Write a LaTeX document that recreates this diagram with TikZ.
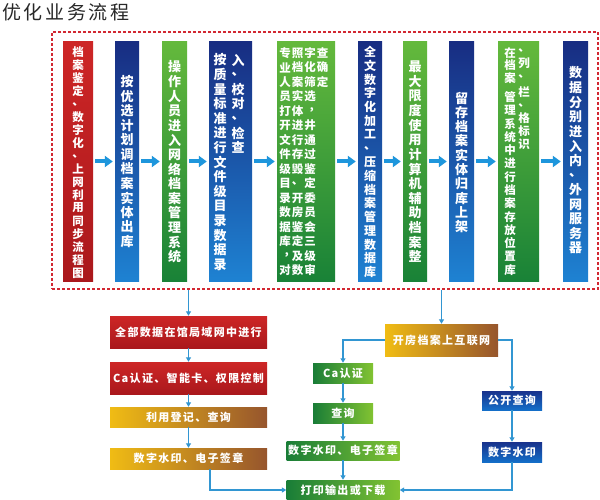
\documentclass[tikz,border=0pt]{standalone}
\usepackage{fontspec}
\setmainfont{Noto Sans CJK SC}
\newfontfamily\cjk{Noto Sans CJK SC}
\newfontfamily\cjkls[LetterSpace=12]{Noto Sans CJK SC}
\newfontfamily\cjktitle[LetterSpace=14]{Noto Sans CJK SC}
\usetikzlibrary{arrows.meta}
\definecolor{arrowblue}{RGB}{30,150,220}
\definecolor{connblue}{RGB}{50,150,210}
\definecolor{framered}{RGB}{210,40,50}
\definecolor{titlegray}{RGB}{40,40,40}
\definecolor{redA}{RGB}{205,38,38}
\definecolor{redB}{RGB}{170,24,28}
\definecolor{bluA}{RGB}{24,45,130}
\definecolor{bluB}{RGB}{30,130,210}
\definecolor{grnA}{RGB}{100,185,60}
\definecolor{grnB}{RGB}{25,130,55}
\definecolor{lgrnA}{RGB}{25,125,55}
\definecolor{lgrnB}{RGB}{130,195,50}
\definecolor{yelA}{RGB}{240,188,20}
\definecolor{yelB}{RGB}{150,85,45}
\definecolor{lbluA}{RGB}{25,50,140}
\definecolor{lbluB}{RGB}{20,110,200}
\newcommand{\vcm}{\rlap{\kern4pt\raisebox{2pt}{，}}\phantom{，}}
\newcommand{\myvtext}[6]{\foreach \ch [count=\i] in {#6} {\node[vchar,font=\cjk\bfseries\fontsize{#5}{#5}\selectfont] (#1\i) at (#2,{#3+(\i-1)*#4}) {\ch};}}
\tikzset{
  colbox/.style={rectangle, inner sep=0pt, minimum height=239pt},
  redcol/.style={colbox, top color=redA, bottom color=redB},
  bluecol/.style={colbox, top color=bluA, bottom color=bluB},
  greencol/.style={colbox, top color=grnA, bottom color=grnB},
  vchar/.style={text=white, inner sep=0pt},
  bigarrow/.style={draw=arrowblue, line width=4pt, -{Triangle[width=11pt,length=8pt]}, shorten <=2pt, shorten >=2pt},
  lowbox/.style={rectangle, inner sep=0pt, text=white, font=\cjkls\bfseries\fontsize{11}{11}\selectfont},
  redbox/.style={lowbox, top color=redA, bottom color=redB},
  yelbox/.style={lowbox, left color=yelA, right color=yelB},
  grnbox/.style={lowbox, left color=lgrnA, right color=lgrnB},
  blubox/.style={lowbox, top color=lbluA, bottom color=lbluB},
  conn/.style={draw=connblue, line width=1.2pt, -{Triangle[width=5pt,length=4.5pt]}},
}
\begin{document}
\begin{tikzpicture}[x=1pt,y=-1pt]
\useasboundingbox (0,0) rectangle (600,500);
\fill[white] (0,0) rectangle (600,500);
% title
\node[anchor=west, text=titlegray, inner sep=0pt, font=\cjktitle\fontsize{19}{19}\selectfont] (title) at (2,12) {优化业务流程};
% frame
\node[draw=framered, line width=1.3pt, dash pattern=on 3pt off 2pt, inner sep=0pt, minimum width=546pt, minimum height=257pt] (frame) at (325,160.5) {};
% columns
\node[redcol, minimum width=30pt] (c1) at (78,161.5) {};
\node[bluecol, minimum width=24pt] (c2) at (127,161.5) {};
\node[greencol, minimum width=25pt] (c3) at (174.5,161.5) {};
\node[bluecol, minimum width=43pt] (c4) at (230.5,161.5) {};
\node[greencol, minimum width=58pt] (c5) at (306,161.5) {};
\node[bluecol, minimum width=24pt] (c6) at (370,161.5) {};
\node[greencol, minimum width=24pt] (c7) at (415,161.5) {};
\node[bluecol, minimum width=25pt] (c8) at (461.5,161.5) {};
\node[greencol, minimum width=41pt] (c9) at (518.5,161.5) {};
\node[bluecol, minimum width=25pt] (c10) at (575.5,161.5) {};
% column texts
\myvtext{c1t}{78}{52}{13}{11.5}{档,案,鉴,定,、,数,字,化,、,上,网,利,用,同,步,流,程,图}
\myvtext{c2t}{127}{82}{14.5}{13}{按,优,选,计,划,调,档,案,实,体,出,库}
\myvtext{c3t}{174.5}{67}{14.6}{13}{操,作,人,员,进,入,网,络,档,案,管,理,系,统}
\myvtext{c4l}{220}{60}{14.6}{13}{按,质,量,标,准,进,行,文,件,级,目,录,数,据,录}
\myvtext{c4r}{238}{60}{14.6}{13}{入,、,校,对,、,检,查}
\myvtext{c5a}{285}{53}{14.5}{11.5}{专,业,人,员,打,开,文,件,级,目,录,数,据,库,\vcm,对}
\myvtext{c5b}{297.5}{53}{14.5}{11.5}{照,档,案,实,体,进,行,存,毁,、,开,房,鉴,定,及,数}
\myvtext{c5c}{310}{53}{14.5}{11.5}{字,化,筛,选,\vcm,井,通,过,鉴,定,委,员,会,三,级,审}
\myvtext{c5d}{322.5}{53}{14.5}{11.5}{查,确,定}
\myvtext{c6t}{370}{52}{13.75}{12}{全,文,数,字,化,加,工,、,压,缩,档,案,管,理,数,据,库}
\myvtext{c7t}{415}{67}{14.6}{13}{最,大,限,度,使,用,计,算,机,辅,助,档,案,整}
\myvtext{c8t}{461.5}{98}{14.3}{13}{留,存,档,案,实,体,归,库,上,架}
\myvtext{c9a}{510}{53}{12.5}{11.5}{在,档,案}
\myvtext{c9b}{510}{97}{13.3}{11.5}{管,理,系,统,中,进,行,档,案,存,放,位,置,库}
\myvtext{c9r}{524}{50}{13}{11.5}{、,列,、}
\myvtext{c9s}{524}{92}{13}{11.5}{栏,、,格,标,识}
\myvtext{c10t}{575.5}{73}{14.6}{13}{数,据,分,别,进,入,内,、,外,网,服,务,器}
% big arrows
\draw[bigarrow] (c1.east) -- (c2.west);
\draw[bigarrow] (c2.east) -- (c3.west);
\draw[bigarrow] (c3.east) -- (c4.west);
\draw[bigarrow] (c4.east) -- (c5.west);
\draw[bigarrow] (c5.east) -- (c6.west);
\draw[bigarrow] (c6.east) -- (c7.west);
\draw[bigarrow] (c7.east) -- (c8.west);
\draw[bigarrow] (c8.east) -- (c9.west);
\draw[bigarrow] (c9.east) -- (c10.west);
% lower boxes left
\node[redbox, minimum width=157pt, minimum height=32pt] (r1) at (188.5,332) {全部数据在馆局域网中进行};
\node[redbox, minimum width=157pt, minimum height=32pt] (r2) at (188.5,378) {Ca认证、智能卡、权限控制};
\node[yelbox, minimum width=157pt, minimum height=20pt] (y1) at (188.5,417) {利用登记、查询};
\node[yelbox, minimum width=157pt, minimum height=21pt] (y2) at (188.5,458.5) {数字水印、电子签章};
% lower boxes right
\node[yelbox, minimum width=113pt, minimum height=32pt] (kf) at (441.5,340) {开房档案上互联网};
\node[grnbox, minimum width=60pt, minimum height=20pt] (ca) at (343,373) {Ca认证};
\node[grnbox, minimum width=60pt, minimum height=20pt] (cx) at (343,413) {查询};
\node[grnbox, minimum width=113pt, minimum height=19pt] (g3) at (343,450.5) {数字水印、电子签章};
\node[grnbox, minimum width=113pt, minimum height=20pt] (pr) at (343,490) {打印输出或下载};
\node[blubox, minimum width=60pt, minimum height=19pt] (gk) at (512,400.5) {公开查询};
\node[blubox, minimum width=60pt, minimum height=20pt] (sy) at (512,452) {数字水印};
% connectors
\draw[conn] (frame.south -| r1.north) -- (r1.north);
\draw[conn] (r1.south) -- (r2.north);
\draw[conn] (r2.south) -- (y1.north);
\draw[conn] (y1.south) -- (y2.north);
\draw[conn] ([xshift=21.5pt]y2.south) |- (pr.west);
\draw[conn] (frame.south -| kf.north) -- (kf.north);
\draw[conn] (kf.west) -| (ca.north);
\draw[conn] (kf.east) -| (gk.north);
\draw[conn] (ca.south) -- (cx.north);
\draw[conn] (cx.south) -- (g3.north);
\draw[conn] (g3.south) -- (pr.north);
\draw[conn] (gk.south) -- (sy.north);
\draw[conn] (sy.south) |- (pr.east);
\end{tikzpicture}
\end{document}
